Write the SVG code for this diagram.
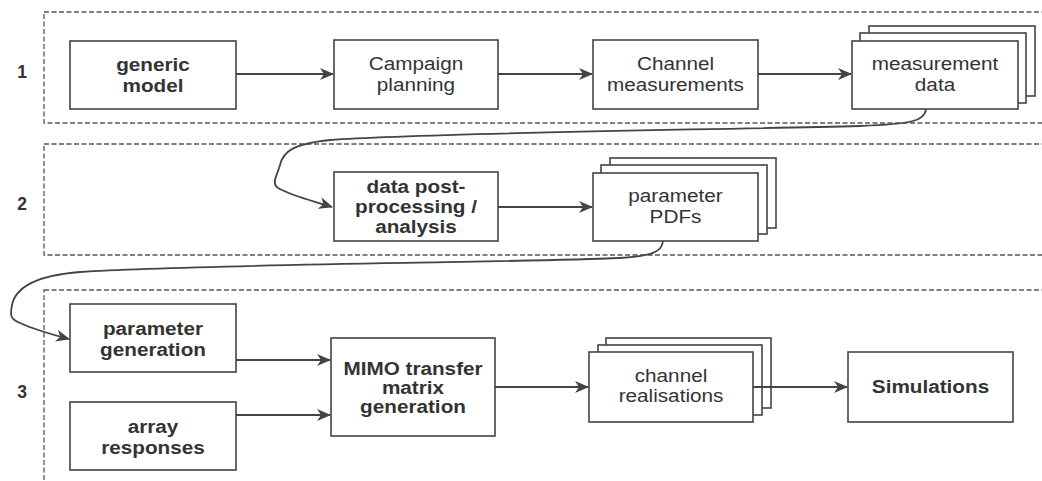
<svg xmlns="http://www.w3.org/2000/svg" width="1042" height="481" viewBox="0 0 1042 481">
  <style>
    .stage { fill: none; stroke: #555; stroke-width: 1.3; stroke-dasharray: 5 2.5; }
    .box { fill: #fff; stroke: #444; stroke-width: 1.6; }
    .edge { fill: none; stroke: #444; stroke-width: 1.8; }
    .curve { fill: none; stroke: #444; stroke-width: 1.8; }
    text { font-family: "Liberation Sans", Arial, sans-serif; font-size: 18.5px; fill: #333; text-anchor: middle; }
    .b { font-weight: bold; }
    .num { font-size: 17.5px; font-weight: bold; }
  </style>
  <defs>
    <marker id="arrow" markerUnits="userSpaceOnUse" markerWidth="14" markerHeight="12" refX="13" refY="6" orient="auto">
      <path d="M0,0 L14,6 L0,12 L4,6 z" fill="#444"/>
    </marker>
  </defs>

  <rect width="1042" height="481" fill="#fff"/>

  <!-- stage frames -->
  <g id="stages">
    <rect class="stage" x="44" y="12" width="1010" height="111"/>
    <rect class="stage" x="44" y="144" width="1010" height="111"/>
    <rect class="stage" x="44" y="290" width="1010" height="210"/>
    <text class="num" x="22" y="78">1</text>
    <text class="num" x="22" y="210">2</text>
    <text class="num" x="22" y="398">3</text>
  </g>

  <!-- connectors -->
  <g id="connectors">
    <line class="edge" x1="236" y1="74" x2="333" y2="74" marker-end="url(#arrow)"/>
    <line class="edge" x1="498" y1="74" x2="592" y2="74" marker-end="url(#arrow)"/>
    <line class="edge" x1="758" y1="74" x2="851" y2="74" marker-end="url(#arrow)"/>
    <path class="curve" d="M926,109 C925,121 912,124 860,126 C700,130 420,133 330,140 C292,144 283,152 280,165 C277,176 271,183 278,188 C292,196 310,200 332,207" marker-end="url(#arrow)"/>
    <line class="edge" x1="498" y1="207" x2="592" y2="207" marker-end="url(#arrow)"/>
    <path class="curve" d="M663,241 C662,252 652,256 620,258 C500,263 200,264 80,272 C30,276 15,290 12,305 C10,315 10,319 20,323 C35,330 50,334 69,339" marker-end="url(#arrow)"/>
    <line class="edge" x1="236" y1="360" x2="330" y2="360" marker-end="url(#arrow)"/>
    <line class="edge" x1="236" y1="415" x2="330" y2="415" marker-end="url(#arrow)"/>
    <line class="edge" x1="495" y1="387" x2="588" y2="387" marker-end="url(#arrow)"/>
  </g>

  <g id="generic-model">
    <rect class="box" x="70" y="41" width="166" height="68"/>
    <text class="b" transform="translate(153 0) scale(1.12 1)" x="0" y="71">generic</text>
    <text class="b" transform="translate(153 0) scale(1.12 1)" x="0" y="92">model</text>
  </g>

  <g id="campaign-planning">
    <rect class="box" x="334" y="40" width="164" height="69"/>
    <text transform="translate(416 0) scale(1.12 1)" x="0" y="70">Campaign</text>
    <text transform="translate(416 0) scale(1.12 1)" x="0" y="91">planning</text>
  </g>

  <g id="channel-measurements">
    <rect class="box" x="593" y="40" width="165" height="69"/>
    <text transform="translate(675.5 0) scale(1.12 1)" x="0" y="70">Channel</text>
    <text transform="translate(675.5 0) scale(1.12 1)" x="0" y="91">measurements</text>
  </g>

  <g id="measurement-data">
    <rect class="box" x="869" y="26" width="166" height="70"/>
    <rect class="box" x="860" y="33" width="166" height="70"/>
    <rect class="box" x="852" y="41" width="166" height="68"/>
    <text transform="translate(935 0) scale(1.12 1)" x="0" y="70">measurement</text>
    <text transform="translate(935 0) scale(1.12 1)" x="0" y="91">data</text>
  </g>

  <g id="post-processing">
    <rect class="box" x="334" y="172" width="164" height="69"/>
    <text class="b" transform="translate(416 0) scale(1.12 1)" x="0" y="193">data post-</text>
    <text class="b" transform="translate(416 0) scale(1.12 1)" x="0" y="213">processing /</text>
    <text class="b" transform="translate(416 0) scale(1.12 1)" x="0" y="233">analysis</text>
  </g>

  <g id="parameter-pdfs">
    <rect class="box" x="610" y="158" width="166" height="70"/>
    <rect class="box" x="601" y="165" width="166" height="69"/>
    <rect class="box" x="593" y="173" width="165" height="68"/>
    <text transform="translate(675.5 0) scale(1.12 1)" x="0" y="202">parameter</text>
    <text transform="translate(675.5 0) scale(1.12 1)" x="0" y="223">PDFs</text>
  </g>

  <g id="parameter-generation">
    <rect class="box" x="70" y="304" width="166" height="68"/>
    <text class="b" transform="translate(153 0) scale(1.12 1)" x="0" y="335">parameter</text>
    <text class="b" transform="translate(153 0) scale(1.12 1)" x="0" y="356">generation</text>
  </g>

  <g id="array-responses">
    <rect class="box" x="70" y="402" width="166" height="68"/>
    <text class="b" transform="translate(153 0) scale(1.12 1)" x="0" y="433">array</text>
    <text class="b" transform="translate(153 0) scale(1.12 1)" x="0" y="454">responses</text>
  </g>

  <g id="mimo-matrix">
    <rect class="box" x="331" y="338" width="164" height="98"/>
    <text class="b" transform="translate(413 0) scale(1.12 1)" x="0" y="375">MIMO transfer</text>
    <text class="b" transform="translate(413 0) scale(1.12 1)" x="0" y="394">matrix</text>
    <text class="b" transform="translate(413 0) scale(1.12 1)" x="0" y="413">generation</text>
  </g>

  <g id="channel-realisations">
    <rect class="box" x="606" y="338" width="165" height="70"/>
    <rect class="box" x="598" y="345" width="164" height="70"/>
    <rect class="box" x="589" y="352" width="164" height="70"/>
    <text transform="translate(671 0) scale(1.12 1)" x="0" y="382">channel</text>
    <text transform="translate(671 0) scale(1.12 1)" x="0" y="402">realisations</text>
  </g>

  <!-- realisations to simulations, drawn over the stacked frames -->
  <g id="connector-sim">
    <line class="edge" x1="753" y1="387" x2="847" y2="387" marker-end="url(#arrow)"/>
  </g>

  <g id="simulations">
    <rect class="box" x="848" y="352" width="165" height="70"/>
    <text class="b" transform="translate(930.5 0) scale(1.12 1)" x="0" y="393">Simulations</text>
  </g>
</svg>
